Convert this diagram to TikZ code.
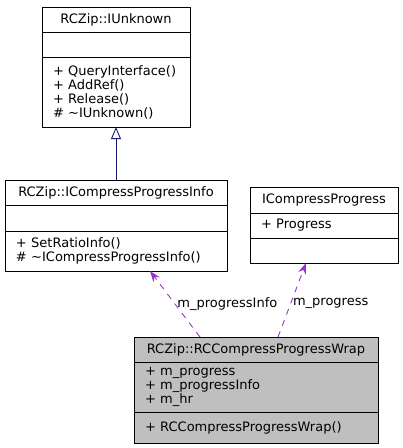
\documentclass[tikz,border=0pt]{standalone}
\usepackage{fontspec}
\setmainfont{DejaVu Sans}
\usetikzlibrary{positioning}
\usetikzlibrary{arrows.meta}
\definecolor{inhblue}{HTML}{191970}
\definecolor{memberpurple}{HTML}{9A32CD}
\definecolor{wrapgray}{HTML}{BFBFBF}

\tikzset{
  clspart/.style={draw, rectangle, inner sep=0pt, outer sep=0pt,
    minimum height=25pt, line width=0.9pt, font=\fontsize{13}{14}\selectfont},
  clsname/.style={clspart},
  clsbody/.style={clspart, inner xsep=11pt, align=left},
  inherit/.style={draw=inhblue, line width=0.9pt,
    -{Triangle[open, length=12pt, width=10pt]}},
  member/.style={draw=memberpurple, line width=0.9pt, dash pattern=on 6pt off 6pt,
    -{Stealth[length=11pt, width=8pt]}},
  rolelabel/.style={inner sep=2pt, font=\fontsize{13}{14}\selectfont}
}

\begin{document}
\begin{tikzpicture}[x=1pt, y=1pt]
\useasboundingbox (0,0) rectangle (403,-448);

% RCZip::IUnknown
\node [clsname, minimum width=148pt] (unk) at (116,-19.5) {RCZip::IUnknown};
\node [clsbody, minimum width=148pt, text width=126pt, below=0pt of unk] (unkattr) {};
\node [clsbody, minimum width=148pt, text width=126pt, minimum height=70pt,
    below=0pt of unkattr] (unkops)
    {+ QueryInterface()\\+ AddRef()\\+ Release()\\\# \string~IUnknown()};

% RCZip::ICompressProgressInfo
\node [clsname, minimum width=222pt] (icpi) at (116,-192.5) {RCZip::ICompressProgressInfo};
\node [clsbody, minimum width=222pt, text width=200pt, minimum height=26pt,
    below=0pt of icpi] (icpiattr) {};
\node [clsbody, minimum width=222pt, text width=200pt, minimum height=40pt,
    below=0pt of icpiattr] (icpiops)
    {+ SetRatioInfo()\\\# \string~ICompressProgressInfo()};

% ICompressProgress
\node [clsname, minimum width=148pt, minimum height=26pt] (icp) at (324,-200) {ICompressProgress};
\node [clsbody, minimum width=148pt, text width=126pt, below=0pt of icp] (icpattr) {+ Progress};
\node [clsbody, minimum width=148pt, text width=126pt, below=0pt of icpattr] (icpops) {};

% RCZip::RCCompressProgressWrap
\node [clsname, fill=wrapgray, minimum width=244pt] (wrap) at (256,-349.5)
    {RCZip::RCCompressProgressWrap};
\node [clsbody, fill=wrapgray, minimum width=244pt, text width=222pt, minimum height=50pt,
    below=0pt of wrap] (wrapattr)
    {+ m\_progress\\+ m\_progressInfo\\+ m\_hr};
\node [clsbody, fill=wrapgray, minimum width=244pt, text width=222pt, minimum height=31pt,
    below=0pt of wrapattr] (wrapops) {+ RCCompressProgressWrap()};

% relations
\draw [inherit] (icpi.north) -- (unkops.south);
\draw [member] ([xshift=-56pt]wrap.north) --
    node [rolelabel, right, pos=.5] {m\_progressInfo} ([xshift=34pt]icpiops.south);
\draw [member] ([xshift=22pt]wrap.north) --
    node [rolelabel, right, pos=.45] {m\_progress} ([xshift=-18pt]icpops.south);

\end{tikzpicture}
\end{document}
